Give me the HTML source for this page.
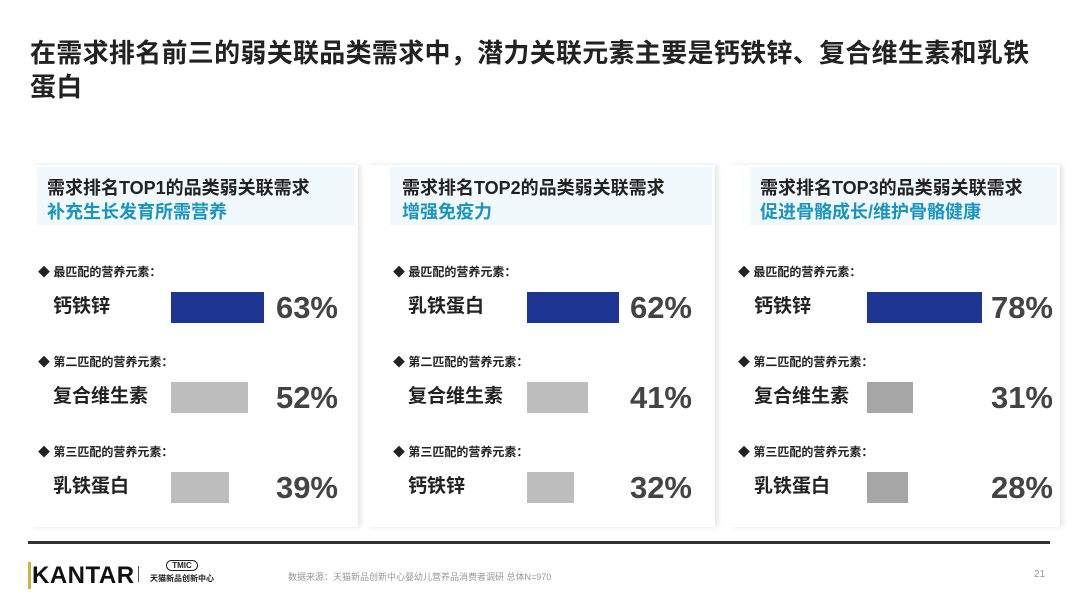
<!DOCTYPE html>
<html><head><meta charset="utf-8">
<style>
body{margin:0;width:1080px;height:608px;background:#fff;position:relative;overflow:hidden;font-family:"Liberation Sans","Noto Sans CJK SC",sans-serif;}
.abs{position:absolute;}
.title{left:30px;top:36px;font-size:26px;font-weight:bold;color:#222;line-height:34px;width:1025px;letter-spacing:0.3px;}
.card{background:#fff;box-shadow:3px 0 5px rgba(0,0,0,0.10);}
.hdr{background:#f2f9fc;}
.h1{font-size:18px;font-weight:bold;color:#222;white-space:nowrap;}
.h2{font-size:18px;font-weight:bold;color:#1a94c0;white-space:nowrap;}
.sub{font-size:12px;font-weight:bold;color:#222;white-space:nowrap;}
.nm{font-size:19px;font-weight:bold;color:#222;white-space:nowrap;}
.pct{font-size:31px;font-weight:bold;color:#444;text-align:right;width:100px;}
</style></head><body>
<div class="abs title">在需求排名前三的弱关联品类需求中，潜力关联元素主要是钙铁锌、复合维生素和乳铁蛋白</div>
<div id="chart"></div>
<div class="abs" style="left:28px;top:541px;width:1022px;height:3px;background:#333;"></div>
<div class="abs" style="left:28px;top:562px;font-size:24px;font-weight:bold;color:#111;letter-spacing:0.5px;"><span style="border-left:3px solid #d4b03a;padding-left:1px;">K</span>ANTAR</div>
<div class="abs" style="left:138px;top:566px;width:1px;height:16px;background:#555;"></div>
<div class="abs" style="left:150px;top:560px;font-size:8px;font-weight:bold;color:#222;text-align:center;"><div style="border:1.5px solid #222;border-radius:6px;width:30px;margin:0 auto 2px;font-size:8px;">TMIC</div>天猫新品创新中心</div>
<div class="abs" style="left:288px;top:570px;font-size:9px;color:#999;">数据来源：天猫新品创新中心婴幼儿营养品消费者调研 总体N=970</div>
<div class="abs" style="left:1034px;top:569px;font-size:10px;color:#999;">21</div>
<script>
const panelTitles=["需求排名TOP1的品类弱关联需求","需求排名TOP2的品类弱关联需求","需求排名TOP3的品类弱关联需求"];
const panelNeeds=["补充生长发育所需营养","增强免疫力","促进骨骼成长/维护骨骼健康"];
const rankLabels=["最匹配的营养元素：","第二匹配的营养元素：","第三匹配的营养元素："];
const p1Items=["钙铁锌","复合维生素","乳铁蛋白"];
const p1Values=[63,52,39];
const p2Items=["乳铁蛋白","复合维生素","钙铁锌"];
const p2Values=[62,41,32];
const p3Items=["钙铁锌","复合维生素","乳铁蛋白"];
const p3Values=[78,31,28];
const items=[p1Items,p2Items,p3Items];
const values=[p1Values,p2Values,p3Values];
const cardX=[30,366,730], cardW=[328,349,330];
const hdrX=[37,390,750], hdrTextX=[47,402,760], subX=[38,393,738], nameX=[53,408,754];
const barX=[171,527,867], pctRight=[338,692,1053];
const scale=1.48;
function xw(v){return v*scale;}
const root=document.getElementById('chart');
function mk(cls,css,txt){const d=document.createElement('div');d.className='abs '+cls;d.style.cssText=css;if(txt!==undefined)d.textContent=txt;root.appendChild(d);return d;}
for(let p=0;p<3;p++){
  let c=mk('card',`left:${cardX[p]}px;top:165px;width:${cardW[p]}px;height:362px;`);
  
  
  let h=mk('hdr',`left:${hdrX[p]}px;top:167px;width:${cardX[p]+cardW[p]-hdrX[p]-3}px;height:58px;`);
  
  
  let t=mk('h1',`left:${hdrTextX[p]}px;top:174px;`,panelTitles[p]);
  
  
  let n=mk('h2',`left:${hdrTextX[p]}px;top:198px;`,panelNeeds[p]);
  
  
  for(let r=0;r<3;r++){
    const y0=263+r*90;
    let s=mk('sub',`left:${subX[p]}px;top:${y0}px;`,'◆ '+rankLabels[r]);
    
    
    let nm=mk('nm',`left:${nameX[p]}px;top:${y0+28}px;`,items[p][r]);
    
    
    const col=r===0?'#1f3594':(p===2?'#a6a6a6':'#bdbdbd');
    let b=mk('',`left:${barX[p]}px;top:${y0+29}px;width:${xw(values[p][r])}px;height:31px;background:${col};`);
    
    
    let pc=mk('pct',`left:${pctRight[p]-100}px;top:${y0+27}px;`,values[p][r]+'%');
    
    
  }
}
</script>
</body></html>
